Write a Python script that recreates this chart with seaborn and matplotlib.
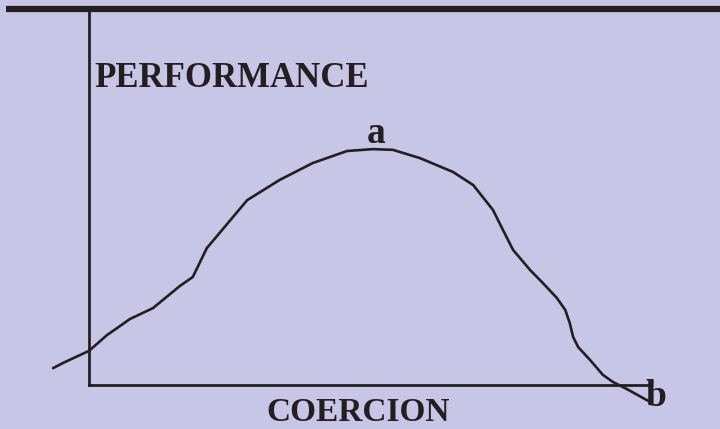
import numpy as np
import pandas as pd
import matplotlib
matplotlib.use("Agg")
import matplotlib.pyplot as plt
from matplotlib.lines import Line2D
import seaborn as sns

# Data: hand-drawn performance vs coercion curve
coercion = [-6.4, -4.6, -2.3, 0.0, 3.2, 5.5, 7.3, 11.4, 16.2, 18.5, 19.8, 21.0,
            28.2, 34.0, 39.9, 46.0, 50.6, 54.2, 59.0, 64.9, 68.5, 70.2, 72.0,
            73.8, 75.6, 76.8, 78.6, 80.9, 83.4, 84.9, 85.7, 86.3, 87.2, 89.3,
            91.6, 93.4, 95.9, 100.0]
performance = [4.5, 5.9, 7.5, 9.1, 13.3, 15.7, 17.6, 20.5, 26.4, 28.8, 32.8, 36.5,
               49.3, 54.7, 59.2, 62.4, 62.9, 62.7, 60.5, 56.8, 53.3, 50.1, 46.7,
               41.3, 36.0, 33.9, 30.7, 27.2, 23.2, 20.0, 16.5, 12.8, 10.1, 6.7,
               2.7, 0.8, -1.1, -4.5]
labels = ["PERFORMANCE", "COERCION", "a", "b"]

BG = "#C8C6E6"
INK = "#231F20"

sns.set_style("white")
plt.rcParams["font.family"] = ["Liberation Serif", "DejaVu Serif"]

W, H = 720, 429
fig = plt.figure(figsize=(7.2, 4.29), dpi=100, facecolor=BG)

# axes box: left spine at x=89px, bottom spine at y=385px
left, right, top, bottom = 89, 650, 10, 385
ax = fig.add_axes([left / W, 1 - bottom / H, (right - left) / W, (bottom - top) / H])
ax.set_facecolor(BG)

df = pd.DataFrame({"coercion": coercion, "performance": performance})
sns.lineplot(data=df, x="coercion", y="performance", sort=False, color=INK,
             linewidth=1.9, ax=ax, clip_on=False, solid_joinstyle="round",
             solid_capstyle="round")

ax.set_xlim(0, 100)
ax.set_ylim(0, 100)
ax.set_xticks([])
ax.set_yticks([])
ax.set_xlabel("")
ax.set_ylabel("")
for s in ["top", "right"]:
    ax.spines[s].set_visible(False)
for s in ["left", "bottom"]:
    ax.spines[s].set_color(INK)
    ax.spines[s].set_linewidth(2.0)

# thick rule across the top
fig.add_artist(Line2D([6 / W, 1], [1 - 9 / H, 1 - 9 / H], color=INK, linewidth=4.5,
                      solid_capstyle="butt", transform=fig.transFigure))

def px_text(x, y, s, size):
    fig.text(x / W, 1 - y / H, s, fontsize=size, fontweight="bold", color=INK,
             ha="left", va="baseline")

px_text(94, 87, labels[0], 25)
px_text(266, 421, labels[1], 24)
px_text(367, 143, labels[2], 27)
px_text(646, 406, labels[3], 27)

fig.savefig("out.png", dpi=100, facecolor=BG)
